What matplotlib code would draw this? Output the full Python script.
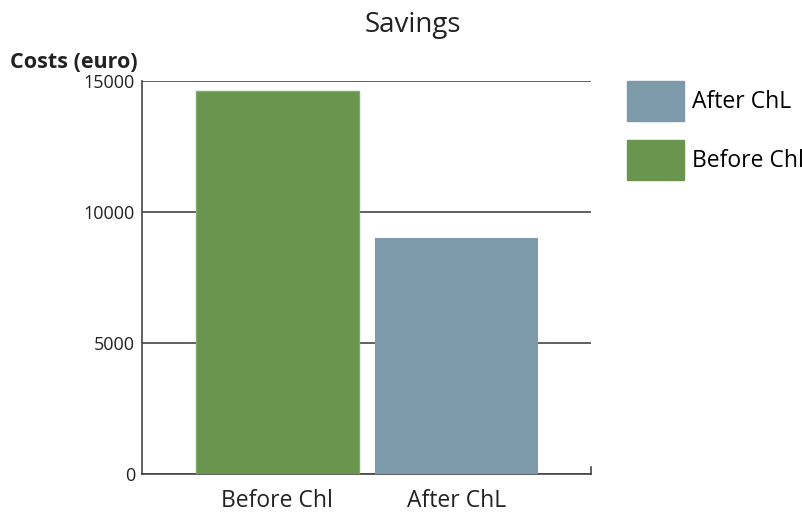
import matplotlib.pyplot as plt
from matplotlib.patches import Patch

categories = ['Before Chl', 'After ChL']
costs = [14600, 9000]
colors = ['#6a954e', '#7d9aab']
yticks = [0, 5000, 10000, 15000]

plt.rcParams['font.family'] = ['Open Sans', 'DejaVu Sans']

fig = plt.figure(figsize=(8.03, 5.13), dpi=100)
ax = fig.add_axes([142 / 803, 1 - 474 / 513, 449 / 803, 393 / 513])

x = range(len(categories))
bars = ax.bar(x, costs, width=0.91, color=colors, zorder=3)
bars[0].set_edgecolor('#7fae62')
bars[0].set_linewidth(1)

ax.set_xlim(-0.755, 1.75)
ax.set_ylim(0, 15000)
ax.set_yticks(yticks)
ax.set_yticklabels([str(v) for v in yticks], fontsize=13, color='#222222')
ax.set_xticks(list(x))
ax.set_xticklabels(categories, fontsize=16.5, color='#222222')
ax.tick_params(axis='both', length=0)
ax.tick_params(axis='y', pad=5)
ax.tick_params(axis='x', pad=10.5)

ax.grid(axis='y', color='#444444', linewidth=1.2, zorder=0)
for side in ['top', 'right']:
    ax.spines[side].set_visible(False)
ax.spines['left'].set_color('#444444')
ax.spines['bottom'].set_color('#444444')
ax.spines['left'].set_linewidth(1.2)
ax.spines['bottom'].set_linewidth(1.2)
# little end tick on the right of the x axis
ax.plot([1.75, 1.75], [0, 250], color='#444444', lw=1.2, clip_on=False)

fig.text(413 / 803, 1 - 32 / 513, 'Savings', fontsize=20, ha='center', va='baseline', color='#222222')
fig.text(10 / 803, 1 - 68 / 513, 'Costs (euro)', fontsize=15.5, fontweight='bold', ha='left', va='baseline', color='#222222')

handles = [Patch(color=colors[1], label=categories[1]), Patch(color=colors[0], label=categories[0])]
fig.legend(handles=handles, loc='upper left', bbox_to_anchor=(627 / 803, 1 - 81 / 513),
           frameon=False, fontsize=16.5, handlelength=2.49, handleheight=2.31,
           labelspacing=0.83, handletextpad=0.35, borderpad=0, borderaxespad=0)

fig.savefig('out.png', dpi=100)
